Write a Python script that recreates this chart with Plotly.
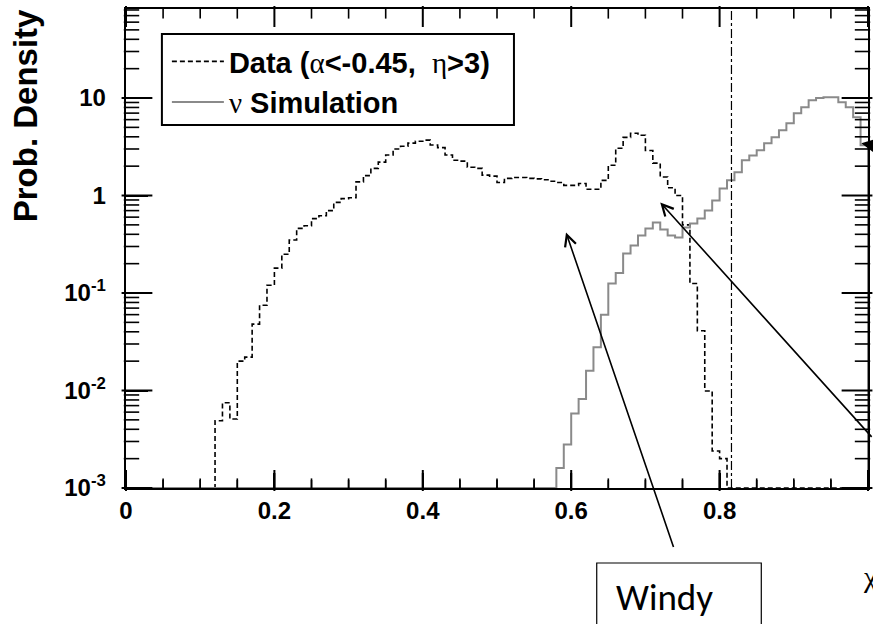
import math
import plotly.graph_objects as go

# ---------------- data ----------------
BIN_LO = 0.0
BIN_W = 0.01
N_BINS = 100
FLOOR = 1e-3          # lower edge of the log axis (empty bins are drawn here)
Y_TOP_LOG = 1.913     # upper edge of the log axis (log10)
X_RANGE = [0.0, 1.0]
CUT = 0.816           # vertical cut line

data_density = (
    [0] * 12 +
    [0.0049, 0.0075, 0.0051, 0.020, 0.022, 0.048, 0.075, 0.12,      # 0.12-0.19
     0.18, 0.25, 0.35, 0.46, 0.49, 0.58, 0.62, 0.70, 0.85, 0.93,     # 0.20-0.29
     0.95, 1.38, 1.6, 1.9, 2.2, 2.6, 3.0, 3.2, 3.45, 3.6,            # 0.30-0.39
     3.7, 3.3, 3.1, 2.6, 2.3, 2.25, 1.95, 1.9, 1.62, 1.58,           # 0.40-0.49
     1.36, 1.50, 1.53, 1.53, 1.50, 1.48, 1.45, 1.40, 1.36, 1.27,     # 0.50-0.59
     1.27, 1.33, 1.16, 1.16, 1.43, 2.04, 3.05, 3.95, 4.35, 4.15,     # 0.60-0.69
     2.9, 2.15, 1.55, 1.2, 1.0, 0.5, 0.125, 0.041, 0.0099, 0.0024,   # 0.70-0.79
     0.0020] +                                                       # 0.80
    [0] * 19
)

sim_density = (
    [0] * 58 +
    [0.0016, 0.0028,                                                 # 0.58-0.59
     0.0058, 0.0082, 0.0159, 0.0277, 0.06, 0.125, 0.16, 0.254, 0.307, 0.389,  # 0.60-0.69
     0.46, 0.53, 0.449, 0.389, 0.37, 0.47, 0.517, 0.58, 0.70, 0.89,          # 0.70-0.79
     1.18, 1.43, 1.73, 2.30, 2.58, 2.91, 3.43, 3.95, 4.67, 5.5,              # 0.80-0.89
     6.98, 8.04, 9.5, 10.0, 10.2, 10.2, 9.06, 8.04, 6.35, 3.27]              # 0.90-0.99
)

x_tickvals = [0, 0.2, 0.4, 0.6, 0.8, 1.0]
x_ticktext = ["0", "0.2", "0.4", "0.6", "0.8", "1"]
x_minor = [0.05, 0.1, 0.15, 0.25, 0.3, 0.35, 0.45, 0.5, 0.55, 0.65, 0.7, 0.75, 0.85, 0.9, 0.95]
y_tickvals = [1e-3, 1e-2, 1e-1, 1, 10]
y_ticktext = ["10<sup>-3</sup>&nbsp;&nbsp;", "10<sup>-2</sup>&nbsp;&nbsp;",
              "10<sup>-1</sup>&nbsp;&nbsp;", "1&nbsp;&nbsp;", "10&nbsp;&nbsp;"]
y_minor = [m * 10.0 ** e for e in range(-3, 2) for m in range(2, 10)]

# ---------------- layout geometry ----------------
W, H = 873, 624
M_L, M_R, M_T, M_B = 126, 3, 9, 136
PW, PH = W - M_L - M_R, H - M_T - M_B          # plot-area size in px
X_PER_PX = (X_RANGE[1] - X_RANGE[0]) / PW
DEC_PER_PX = (Y_TOP_LOG - math.log10(FLOOR)) / PH

# ---------------- helpers ----------------
edges = [BIN_LO + i * BIN_W for i in range(N_BINS + 1)]


def step_xy(vals):
    ys = [v if v > 0 else FLOOR for v in vals] + [FLOOR]
    return edges, ys


SERIF = "'Liberation Serif', 'Times New Roman', serif"
SANS = "'Liberation Sans', Arial, Helvetica, sans-serif"


def greek(ch):
    return f'<span style="font-family:{SERIF};font-weight:normal">{ch}</span>'


fig = go.Figure()

dx, dy = step_xy(data_density)
fig.add_trace(go.Scatter(
    x=dx, y=dy, mode="lines", line_shape="hv",
    line=dict(color="black", width=1.6, dash="5px,3px"),
    name="Data (" + greek("α") + "&lt;-0.45,&nbsp;&nbsp;" + greek("η") + "&gt;3)",
    legendgroup="a", hoverinfo="skip",
))

sx, sy = step_xy(sim_density)
fig.add_trace(go.Scatter(
    x=sx, y=sy, mode="lines", line_shape="hv",
    line=dict(color="#8a8a8a", width=2),
    name=greek("ν") + " Simulation",
    legendgroup="b", hoverinfo="skip",
))


# ROOT-style inside tick marks on all four sides: each tick is a line marker whose
# centre sits half a tick length inside the frame.
def tick_marks(xs, ys, symbol, length, width):
    fig.add_trace(go.Scatter(
        x=xs, y=ys, mode="markers", cliponaxis=False, showlegend=False, hoverinfo="skip",
        marker=dict(symbol=symbol, size=length, color="black",
                    line=dict(width=width, color="black")),
    ))


for sign, base_log in ((1, math.log10(FLOOR)), (-1, Y_TOP_LOG)):
    for vals, length, width in ((x_tickvals, 15, 2), (x_minor, 8, 1.6)):
        yy = 10 ** (base_log + sign * (length / 2) * DEC_PER_PX)
        tick_marks(vals, [yy] * len(vals), "line-ns", length, width)

y_top = 10 ** Y_TOP_LOG
y_minor_in = [v for v in y_minor if v <= y_top]
for sign, base_x in ((1, X_RANGE[0]), (-1, X_RANGE[1])):
    for vals, length, width in ((y_tickvals, 22, 2), (y_minor_in, 11, 1.6)):
        xx = base_x + sign * (length / 2) * X_PER_PX
        tick_marks([xx] * len(vals), vals, "line-ew", length, width)

# bottom ticks also as layout lines (x in data units, length in paper units)
for vals, length, width in ((x_tickvals, 15, 2), (x_minor, 8, 1.6)):
    for v in vals:
        fig.add_shape(type="line", xref="x", yref="paper", x0=v, x1=v,
                      y0=0, y1=length / PH, layer="above",
                      line=dict(color="black", width=width))

# vertical cut line
fig.add_shape(type="line", xref="x", yref="paper", x0=CUT, x1=CUT, y0=0, y1=1,
              line=dict(color="black", width=1.2, dash="dashdot"))

# frame of the legend
fig.add_shape(type="rect", xref="paper", yref="paper",
              x0=(162 - M_L) / PW, x1=(515 - M_L) / PW,
              y0=(M_T + PH - 125) / PH, y1=(M_T + PH - 34) / PH,
              line=dict(color="black", width=2), fillcolor="rgba(0,0,0,0)")

# "Windy" box
fig.add_shape(type="rect", xref="paper", yref="paper",
              x0=(598 - M_L) / PW, x1=(763 - M_L) / PW,
              y0=(M_T + PH - 660) / PH, y1=(M_T + PH - 563) / PH,
              line=dict(color="black", width=1.2), fillcolor="white")

ann = []
# arrows
ann.append(dict(x=0.593, y=math.log10(0.418), xref="x", yref="y", text="",
                showarrow=True, ax=108, ay=316, arrowhead=5, arrowsize=1.4,
                arrowwidth=1.6, arrowcolor="black"))
ann.append(dict(x=0.720, y=math.log10(0.85), xref="x", yref="y", text="",
                showarrow=True, ax=240, ay=236, arrowhead=5, arrowsize=1.4,
                arrowwidth=1.6, arrowcolor="black"))
ann.append(dict(x=0.991, y=math.log10(3.43), xref="x", yref="y", text="",
                showarrow=True, ax=60, ay=2, arrowhead=2, arrowsize=1.5,
                arrowwidth=2, arrowcolor="black"))
# texts
ann.append(dict(x=(615 - M_L) / PW, y=(M_T + PH - 597) / PH, xref="paper", yref="paper",
                text="Windy", showarrow=False, xanchor="left", yanchor="middle",
                font=dict(family="Carlito, Lato, 'Open Sans', sans-serif", size=37, color="black")))
ann.append(dict(x=(863 - M_L) / PW, y=(M_T + PH - 576) / PH, xref="paper", yref="paper",
                text="χ", showarrow=False, xanchor="left", yanchor="middle",
                font=dict(family=SERIF, size=30, color="black")))
ann.append(dict(x=(25 - M_L) / PW, y=(M_T + PH - 116) / PH, xref="paper", yref="paper",
                text="Prob. Density", showarrow=False, textangle=-90,
                xanchor="center", yanchor="middle",
                font=dict(family=SANS, size=33, color="black", weight="bold")))

fig.update_layout(
    width=W, height=H,
    margin=dict(l=M_L, r=M_R, t=M_T, b=M_B),
    paper_bgcolor="white", plot_bgcolor="white",
    showlegend=True,
    legend=dict(x=(167 - M_L) / PW, y=(M_T + PH - 36) / PH, xanchor="left", yanchor="top",
                bgcolor="rgba(0,0,0,0)", borderwidth=0,
                font=dict(family=SANS, size=29, color="black", weight="bold"),
                itemwidth=52, tracegroupgap=0, traceorder="grouped"),
    annotations=ann,
)

fig.update_xaxes(
    range=X_RANGE, showgrid=False, zeroline=False,
    showline=True, linecolor="black", linewidth=2, mirror=True,
    ticks="inside", ticklen=15, tickwidth=2, tickcolor="black",
    tickmode="array", tickvals=x_tickvals, ticktext=x_ticktext,
    tickfont=dict(family=SANS, size=24, color="black", weight="bold"),
)
fig.update_yaxes(
    type="log", range=[math.log10(FLOOR), Y_TOP_LOG], showgrid=False, zeroline=False,
    showline=True, linecolor="black", linewidth=2, mirror=True,
    ticks="inside", ticklen=22, tickwidth=2, tickcolor="black",
    tickmode="array", tickvals=y_tickvals, ticktext=y_ticktext,
    tickfont=dict(family=SANS, size=24, color="black", weight="bold"),
)

fig.write_html("out.html")
